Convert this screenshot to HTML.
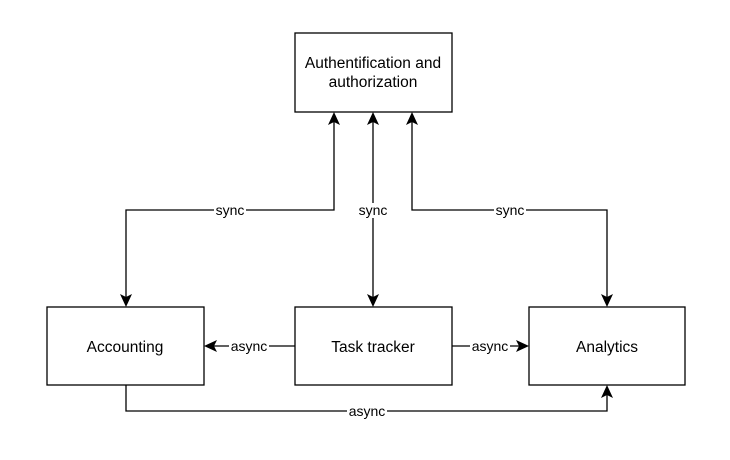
<!DOCTYPE html>
<html><head><style>body{margin:0;background:#fff}svg{display:block}</style></head><body>
<svg width="730" height="460" viewBox="0 0 730 460" xmlns="http://www.w3.org/2000/svg" font-family="Liberation Sans, Arial, sans-serif">
<g fill="#fff" stroke="#000" stroke-width="1.3">
<rect x="295" y="33" width="157" height="79"/>
<rect x="47" y="307" width="157" height="78"/>
<rect x="295" y="307" width="157" height="78"/>
<rect x="529" y="307" width="156" height="78"/>
</g>
<g fill="none" stroke="#000" stroke-width="1.3">
<polyline points="334,122 334,210 126,210 126,298"/>
<line x1="373" y1="122" x2="373" y2="298"/>
<polyline points="412,122 412,210 607,210 607,298"/>
<line x1="295" y1="346" x2="214" y2="346"/>
<line x1="452" y1="346" x2="519" y2="346"/>
<polyline points="126,385 126,411 607,411 607,395"/>
</g>
<g fill="#000">
<path d="M334,112 l-6,13 l6,-3 l6,3z"/>
<path d="M373,112 l-6,13 l6,-3 l6,3z"/>
<path d="M412,112 l-6,13 l6,-3 l6,3z"/>
<path d="M126,307 l-6,-13 l6,3 l6,-3z"/>
<path d="M373,307 l-6,-13 l6,3 l6,-3z"/>
<path d="M607,307 l-6,-13 l6,3 l6,-3z"/>
<path d="M204,346 l13,-6 l-3,6 l3,6z"/>
<path d="M529,346 l-13,-6 l3,6 l-3,6z"/>
<path d="M607,385 l-6,13 l6,-3 l6,3z"/>
</g>
<g font-size="14" text-anchor="middle">
<rect x="214" y="203" width="32" height="15" fill="#fff"/><text x="230" y="215">sync</text>
<rect x="357" y="203" width="32" height="15" fill="#fff"/><text x="373" y="215">sync</text>
<rect x="494" y="203" width="32" height="15" fill="#fff"/><text x="510" y="215">sync</text>
<rect x="229" y="339" width="40" height="15" fill="#fff"/><text x="249" y="351">async</text>
<rect x="470" y="339" width="40" height="15" fill="#fff"/><text x="490" y="351">async</text>
<rect x="347" y="404" width="40" height="15" fill="#fff"/><text x="367" y="416">async</text>
<text x="373" y="68" font-size="15.5">Authentification and</text>
<text x="373" y="87" font-size="15.5">authorization</text>
<text x="125" y="352" font-size="15.5">Accounting</text>
<text x="373" y="352" font-size="15.5">Task tracker</text>
<text x="607" y="352" font-size="15.5">Analytics</text>
</g>
</svg>
</body></html>
